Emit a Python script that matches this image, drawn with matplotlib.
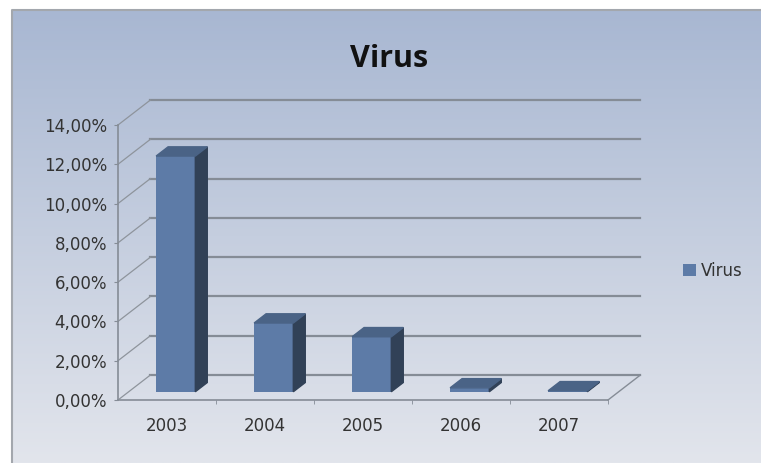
import matplotlib
matplotlib.use("Agg")
import matplotlib.pyplot as plt
import numpy as np
from matplotlib.patches import Polygon

# Dados do gráfico
anos = ["2003", "2004", "2005", "2006", "2007"]
virus = [12.0, 3.5, 2.8, 0.2, 0.05]
marcas_y = [0, 2, 4, 6, 8, 10, 12, 14]
rotulos_y = [f"{v:.2f}%".replace(".", ",") for v in marcas_y]

W, H = 761, 463

# Profundidade da caixa 3D em unidades de dados (categoria, valor)
DX, DY = 0.33, 1.27
# Posição da coluna dentro da profundidade da caixa
D0, D1 = 0.33, 0.70
LARG = 0.40

cor_frente = "#5d7ba7"
cor_lado = "#314157"
cor_topo = "#4a6386"
cor_grade = "#858c96"
cor_texto = "#333333"

fig = plt.figure(figsize=(W / 100, H / 100), dpi=100)

# Fundo em degradê com a moldura da área do gráfico
fundo = fig.add_axes([0, 0, 1, 1])
fundo.set_xlim(0, W)
fundo.set_ylim(H, 0)
fundo.axis("off")
topo = np.array([168, 183, 210]) / 255
base = np.array([226, 229, 236]) / 255
t = np.linspace(0, 1, 256)[:, None]
grad = (topo * (1 - t) + base * t)[:, None, :].repeat(2, axis=1)
fundo.add_patch(plt.Rectangle((0, 0), W, H, color="white", zorder=0))
fundo.imshow(grad, extent=(12, W, H, 10), aspect="auto", zorder=1)
fundo.plot([12, 12, W], [H, 10, 10], color="#a3a7ad", lw=1.5, zorder=2)

# Eixo principal: plano frontal da caixa 3D
ax = fig.add_axes([118 / W, 63 / H, 490 / W, 275 / H])
ax.set_xlim(0, len(anos))
ax.set_ylim(0, 14)
ax.patch.set_alpha(0)
for lado in ["top", "right"]:
    ax.spines[lado].set_visible(False)
for lado in ["left", "bottom"]:
    ax.spines[lado].set_color(cor_grade)
    ax.spines[lado].set_linewidth(1.2)

n = len(anos)
# Linhas de grade da parede do fundo e diagonais da parede lateral
for v in marcas_y:
    ax.plot([DX, n + DX], [v + DY, v + DY], color=cor_grade, lw=1.6, zorder=1,
            clip_on=False)
    ax.plot([0, DX], [v, v + DY], color="#8e949c", lw=0.9, zorder=1,
            clip_on=False)
# Borda direita do piso
ax.plot([n, n + DX], [0, DY], color=cor_grade, lw=1.0, zorder=1, clip_on=False)

# Colunas 3D
xs = np.arange(n) + 0.48 + D0 * DX
base_col = D0 * DY
ax.bar(xs, virus, width=LARG, bottom=base_col, color=cor_frente, zorder=3,
       label="Virus", clip_on=False)
pdx, pdy = (D1 - D0) * DX, (D1 - D0) * DY
for x, v in zip(xs, virus):
    x0, x1 = x - LARG / 2, x + LARG / 2
    y0, y1 = base_col, base_col + v
    lado = Polygon([(x1, y0), (x1 + pdx, y0 + pdy), (x1 + pdx, y1 + pdy),
                    (x1, y1)], closed=True, color=cor_lado, zorder=3,
                   clip_on=False)
    tampa = Polygon([(x0, y1), (x1, y1), (x1 + pdx, y1 + pdy),
                     (x0 + pdx, y1 + pdy)], closed=True, color=cor_topo,
                    zorder=3, clip_on=False)
    ax.add_patch(lado)
    ax.add_patch(tampa)

# Eixos e rótulos
ax.set_yticks(marcas_y)
ax.set_yticklabels(rotulos_y)
ax.set_xticks(np.arange(n) + 0.5)
ax.set_xticklabels(anos)
ax.set_xticks(np.arange(1, n + 1), minor=True)
ax.tick_params(axis="x", which="major", length=0, pad=12, labelsize=12,
               labelcolor=cor_texto)
ax.tick_params(axis="x", which="minor", length=3, color=cor_grade)
ax.tick_params(axis="y", length=3, pad=5, labelsize=12, color=cor_grade,
               labelcolor=cor_texto)

fig.text(389 / W, 1 - 67 / H, "Virus", ha="center", va="baseline",
         fontsize=22, fontweight="bold", family="Open Sans", color="#111111")

ax.legend(loc="center left", bbox_to_anchor=(675 / W, 1 - 271 / H),
          bbox_transform=fig.transFigure, frameon=False, borderpad=0,
          handlelength=0.75, handleheight=0.75, handletextpad=0.3,
          prop={"size": 12}, labelcolor=cor_texto)

fig.savefig("out.png", dpi=100)
